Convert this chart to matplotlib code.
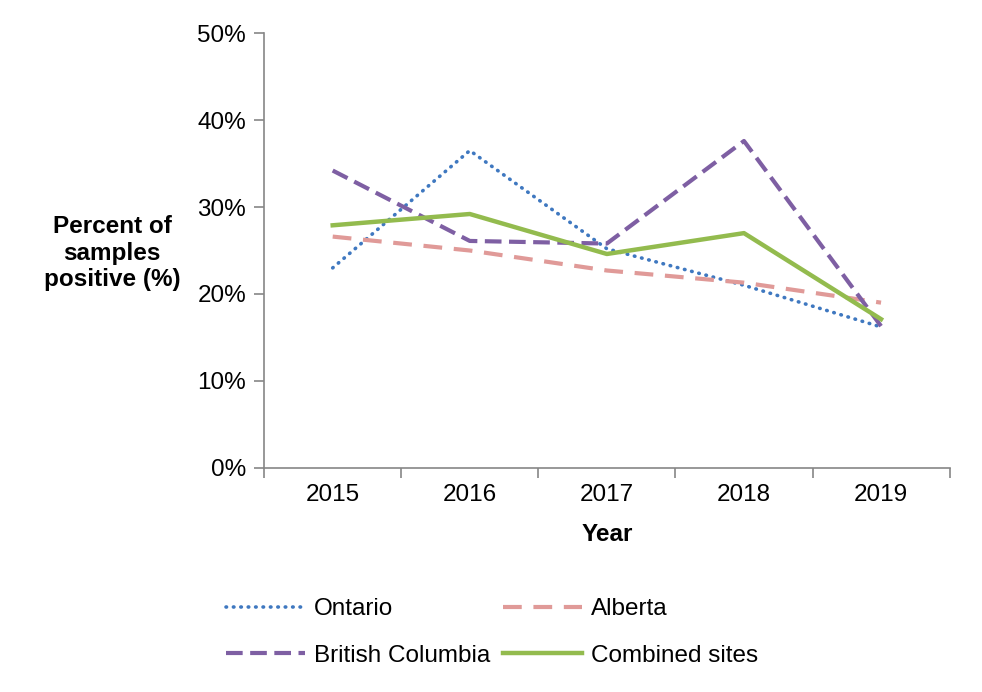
import matplotlib
matplotlib.use("Agg")
import matplotlib.pyplot as plt
import matplotlib.ticker as mticker
import numpy as np

plt.rcParams["font.family"] = ["Liberation Sans", "DejaVu Sans"]

# ---------------------------------------------------------------------------
#  Data
# ---------------------------------------------------------------------------
YEARS = ["2015", "2016", "2017", "2018", "2019"]
ONTARIO = [23.0, 36.5, 25.2, 21.0, 16.2]
ALBERTA = [26.6, 25.0, 22.7, 21.3, 19.0]
BRITISH_COLUMBIA = [34.2, 26.1, 25.8, 37.6, 16.3]
COMBINED = [27.9, 29.2, 24.6, 27.0, 17.1]

AXIS_GREY = "#868686"
FS = 17.5

fig = plt.figure(figsize=(9.82, 6.92), dpi=100)
ax = fig.add_axes([0.269, 0.324, 0.698, 0.628])

x = np.arange(len(YEARS))

l_on, = ax.plot(x, ONTARIO, color="#3F78C0", linewidth=2.6,
                linestyle=(0, (0.15, 1.9)), dash_capstyle="round",
                label="Ontario")
l_ab, = ax.plot(x, ALBERTA, color="#E09A98", linewidth=3.0,
                linestyle=(0, (4.5, 2.8)), label="Alberta")
l_bc, = ax.plot(x, BRITISH_COLUMBIA, color="#7E5FA3", linewidth=3.0,
                linestyle=(0, (4.0, 1.8)), label="British Columbia")
l_cb, = ax.plot(x, COMBINED, color="#93BB4E", linewidth=3.2,
                linestyle="-", label="Combined sites")

ax.set_xlim(-0.5, len(YEARS) - 0.5)
ax.set_ylim(0, 50)
ax.yaxis.set_major_locator(mticker.MultipleLocator(10))
ax.yaxis.set_major_formatter(mticker.FuncFormatter(lambda v, _: f"{v:.0f}%"))

ax.set_xticks(x)
ax.set_xticklabels(YEARS)
ax.set_xticks(np.arange(-0.5, len(YEARS)), minor=True)
ax.tick_params(axis="x", which="major", length=0, pad=12, labelsize=FS)
ax.tick_params(axis="x", which="minor", length=7, color=AXIS_GREY, width=1.2)
ax.tick_params(axis="y", length=7, color=AXIS_GREY, width=1.2, pad=6,
               labelsize=FS)

for side in ("top", "right"):
    ax.spines[side].set_visible(False)
for side in ("left", "bottom"):
    ax.spines[side].set_color(AXIS_GREY)
    ax.spines[side].set_linewidth(1.2)

ax.set_xlabel("Year", fontsize=FS, fontweight="bold", labelpad=12)
fig.text(0.114, 0.634, "Percent of\nsamples\npositive (%)", ha="center",
         va="center", fontsize=FS, fontweight="bold", linespacing=1.2)

# row order in the reference: Ontario, Alberta / British Columbia, Combined
fig.legend([l_on, l_bc, l_ab, l_cb],
           ["Ontario", "British Columbia", "Alberta", "Combined sites"],
           loc="center", bbox_to_anchor=(0.501, 0.086), ncol=2, frameon=False,
           fontsize=FS, handlelength=3.25, handletextpad=0.37,
           columnspacing=0.5, labelspacing=1.0)

fig.savefig("out.png", dpi=100)
